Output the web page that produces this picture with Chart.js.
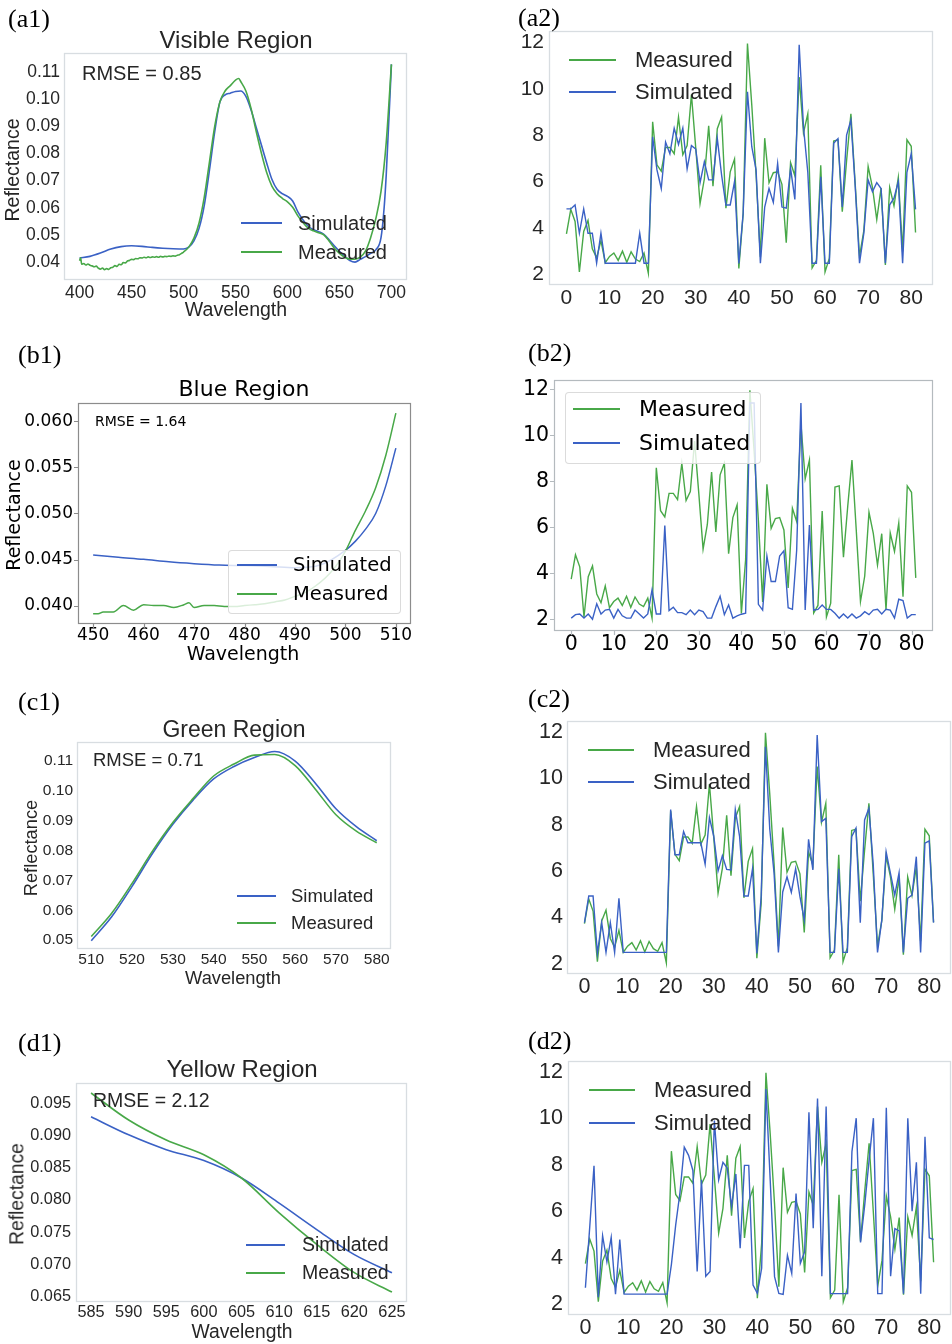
<!DOCTYPE html>
<html><head><meta charset="utf-8">
<script src="https://cdn.jsdelivr.net/npm/chart.js@4.4.1/dist/chart.umd.min.js"></script>
<style>
html,body{margin:0;padding:0;background:#fff;}
body{width:952px;height:1344px;position:relative;overflow:hidden;}
canvas{position:absolute;}
.t{position:absolute;white-space:nowrap;line-height:1;}
</style></head><body>
<script>
// ---------------- DATA ----------------
// (a1) Visible region
const a1WlSim = [400,410,420,430,440,450,460,470,480,490,500,505,510,515,520,525,530,535,540,545,550,555,560,565,570,575,580,585,590,595,600,605,610,615,620,625,630,635,640,645,650,655,660,665,670,675,680,685,690,693,695,700];
const a1Sim   = [0.0415,0.0421,0.0433,0.0448,0.0457,0.0460,0.0458,0.0454,0.0451,0.0449,0.0448,0.0455,0.0478,0.0525,0.0610,0.0740,0.0880,0.0990,0.1016,0.1022,0.1028,0.1030,0.1010,0.0960,0.0895,0.0830,0.0765,0.0705,0.0668,0.0652,0.0642,0.0625,0.0585,0.0555,0.0532,0.0519,0.0512,0.0502,0.0482,0.0460,0.0440,0.0422,0.0406,0.0400,0.0410,0.0420,0.0432,0.0445,0.0490,0.0600,0.0720,0.1128];
const a1WlMeas = [400,401,402,404,406,408,410,412,414,416,418,420,422,424,426,428,430,432,434,436,438,440,442,444,446,448,450,452,454,456,458,460,462,464,466,468,470,472,474,476,478,480,482,484,486,488,490,492,494,496,498,500,505,510,515,520,525,530,535,540,545,550,553,555,560,565,570,575,580,585,590,595,600,605,610,615,620,625,630,635,640,645,650,655,660,665,670,675,680,685,690,695,700];
const a1Meas   = [0.0405,0.0416,0.0392,0.0395,0.0389,0.0393,0.0388,0.0386,0.0383,0.0385,0.0378,0.0374,0.0378,0.0372,0.0376,0.0373,0.0379,0.0381,0.0387,0.0384,0.0392,0.0390,0.0398,0.0397,0.0404,0.0406,0.0410,0.0409,0.0413,0.0412,0.0416,0.0415,0.0418,0.0416,0.0419,0.0417,0.0419,0.0418,0.0420,0.0418,0.0421,0.0419,0.0421,0.0420,0.0422,0.0421,0.0423,0.0422,0.0425,0.0427,0.0432,0.0437,0.0455,0.0488,0.0545,0.0640,0.0770,0.0900,0.0990,0.1030,0.1050,0.1070,0.1076,0.1065,0.1030,0.0965,0.0880,0.0800,0.0730,0.0680,0.0652,0.0635,0.0622,0.0602,0.0570,0.0545,0.0525,0.0515,0.0508,0.0500,0.0478,0.0452,0.0432,0.0418,0.0411,0.0411,0.0418,0.0440,0.0490,0.0560,0.0660,0.0840,0.1128];
const a1XTicks = [400,450,500,550,600,650,700];
const a1YTicks = [0.04,0.05,0.06,0.07,0.08,0.09,0.10,0.11];

// (b1) Blue region
const b1WlSim = [450,455,460,465,470,475,480,485,490,495,500,502,504,506,508,510];
const b1Sim   = [0.04550,0.04525,0.04503,0.04475,0.04455,0.04440,0.04434,0.04425,0.04410,0.04440,0.04600,0.04700,0.04830,0.05000,0.05300,0.05710];
const b1WlMeas = [450,451,452,454,456,458,460,462,464,466,468,469,470,472,474,476,478,480,482,484,486,488,490,492,494,496,498,500,502,504,506,508,510];
const b1Meas   = [0.0391,0.0391,0.0393,0.0393,0.0400,0.0395,0.0401,0.0400,0.0400,0.0398,0.0401,0.0403,0.0398,0.0400,0.0400,0.0399,0.0399,0.0400,0.0401,0.0402,0.0404,0.0406,0.0410,0.0414,0.0421,0.0430,0.0442,0.0459,0.0482,0.0503,0.0528,0.0563,0.0609];
const b1XTicks = [450,460,470,480,490,500,510];
const b1YTicks = [0.040,0.045,0.050,0.055,0.060];

// (c1) Green region
const c1Wl   = [510,515,520,525,530,535,540,545,550,555,560,565,570,575,580];
const c1Sim  = [0.0498,0.0578,0.0680,0.0790,0.0888,0.0970,0.1040,0.1082,0.1112,0.1132,0.1100,0.1025,0.0940,0.0880,0.0833];
const c1Meas = [0.0512,0.0590,0.0690,0.0798,0.0894,0.0975,0.1050,0.1090,0.1120,0.1122,0.1085,0.1005,0.0920,0.0865,0.0826];
const c1XTicks = [510,520,530,540,550,560,570,580];
const c1YTicks = [0.05,0.06,0.07,0.08,0.09,0.10,0.11];

// (d1) Yellow region
const d1Wl   = [585,590,595,600,605,610,615,620,625];
const d1Sim  = [0.0929,0.0901,0.0878,0.0861,0.0834,0.0795,0.0754,0.0715,0.0687];
const d1Meas = [0.0966,0.0924,0.0893,0.0870,0.0834,0.0780,0.0731,0.0687,0.0657];
const d1XTicks = [585,590,595,600,605,610,615,620,625];
const d1YTicks = [0.065,0.070,0.075,0.080,0.085,0.090,0.095];

// Right column: sample index 0..81
const measured = [3.74,4.80,4.28,2.10,3.85,4.32,3.10,2.72,3.45,2.50,2.77,2.92,2.60,3.00,2.52,2.97,2.66,2.55,2.92,2.05,
  8.58,6.72,6.45,7.47,7.47,7.20,8.78,7.16,7.55,9.75,7.45,5.05,6.12,8.40,5.80,8.28,8.78,4.85,6.42,6.97,
  2.25,4.60,11.95,9.30,6.30,2.75,7.87,5.95,6.38,6.42,5.88,3.36,6.82,6.25,10.50,8.10,8.92,2.27,2.60,6.70,
  2.10,2.70,7.75,7.80,4.70,6.90,8.92,5.90,2.77,3.88,6.65,5.75,4.36,5.72,2.40,5.75,4.95,6.18,2.98,7.80,7.52,3.80];
const simA2 = [4.82,4.82,4.99,3.77,4.82,3.77,3.77,2.48,3.77,2.48,2.48,2.48,2.48,2.48,2.48,2.48,2.48,3.77,2.48,2.48,
  7.93,6.50,5.70,7.70,7.20,8.30,7.60,8.30,6.55,7.55,7.40,5.95,6.85,6.07,6.07,7.86,6.28,4.99,4.99,6.00,
  2.47,4.63,9.87,7.50,6.50,2.48,4.90,5.70,5.10,6.78,4.90,4.85,6.57,5.23,11.90,8.35,6.40,2.48,2.48,6.20,
  2.48,2.48,7.65,7.85,4.90,8.00,8.65,5.80,2.48,3.77,6.07,5.56,5.95,5.70,2.48,5.00,5.28,6.00,2.48,6.40,7.20,4.80];
const simB2 = [2.05,2.20,2.23,2.05,2.23,2.00,2.67,2.23,2.40,2.43,2.05,2.43,2.15,2.05,2.05,2.40,2.23,2.05,2.23,3.28,
  2.23,2.23,6.07,2.38,2.52,2.29,2.29,2.20,2.40,2.20,2.40,2.33,2.05,2.05,2.55,3.00,2.20,2.62,2.05,2.15,
  2.22,2.26,11.40,11.40,2.65,2.40,4.75,3.64,3.64,4.75,4.98,2.50,2.43,5.00,11.40,2.40,6.10,2.40,2.43,2.62,
  2.43,2.43,2.26,2.05,2.23,2.05,2.23,2.05,2.15,2.33,2.20,2.40,2.43,2.23,2.43,2.40,2.05,2.87,2.81,2.05,2.20,2.20];
const simC2 = [3.78,4.93,4.93,2.46,3.78,2.50,3.78,2.50,4.83,2.50,2.50,2.50,2.50,2.50,2.50,2.50,2.50,2.50,2.50,2.50,
  8.65,6.70,6.70,7.70,7.22,7.22,7.22,7.22,6.30,8.30,7.50,6.00,6.66,6.07,6.05,8.65,7.48,4.93,4.93,6.10,
  2.46,4.90,11.35,7.80,5.90,2.50,5.10,5.75,5.08,6.10,4.90,3.90,7.37,6.05,11.86,8.13,8.27,2.50,2.50,6.10,
  2.50,2.50,7.48,7.85,3.78,8.20,8.70,6.30,2.50,3.90,6.83,5.90,4.97,5.93,2.50,4.83,4.97,6.62,2.50,7.20,7.30,3.78];
const simD2 = [2.70,5.30,7.95,2.30,4.94,3.82,4.87,2.43,4.78,2.43,2.43,2.43,2.43,2.43,2.43,2.43,2.43,2.43,2.43,2.43,
  3.70,5.40,6.80,8.75,8.40,7.75,3.40,7.35,3.20,3.40,9.90,7.35,8.10,7.85,6.20,7.60,4.40,7.97,7.97,2.82,
  2.46,3.54,11.25,7.30,3.18,2.46,2.42,4.10,3.32,6.76,3.75,4.25,10.25,5.26,10.85,3.20,10.50,2.45,2.45,2.45,
  2.45,2.45,8.55,10.00,4.65,6.30,8.20,10.00,2.45,2.45,10.45,3.20,5.25,5.15,2.45,10.00,6.00,8.10,2.45,9.20,4.85,4.78];
const sampleIdx = measured.map((_, i) => i);
const idxTicks = [0,10,20,30,40,50,60,70,80];
const valTicks = [2,4,6,8,10,12];

// ---------------- STYLE ----------------
const BLUE = '#3a61c5', GREEN = '#48a848';
const ARIAL = "'Liberation Sans', Arial, sans-serif";
const DEJAVU = "'DejaVu Sans', sans-serif";
const TIMES = "'Liberation Serif', 'Times New Roman', serif";
const SEA_TXT = '#262626', MPL_TXT = '#000000';
const SEA_FRAME = '#d8dde1', MPL_FRAME = '#8c8c8c', B2_FRAME = '#b4babe';

const framePlugin = {
  id: 'frame',
  afterDatasetsDraw(chart, args, opts) {
    const {ctx, chartArea: a} = chart;
    ctx.save();
    ctx.strokeStyle = opts.color; ctx.lineWidth = opts.width;
    ctx.strokeRect(a.left + 0.5, a.top + 0.5, a.right - a.left - 1, a.bottom - a.top - 1);
    if (opts.tick) {
      ctx.beginPath();
      chart.scales.x.ticks.forEach(t => { const p = Math.round(chart.scales.x.getPixelForValue(t.value)) + 0.5; ctx.moveTo(p, a.bottom); ctx.lineTo(p, a.bottom + opts.tick); });
      chart.scales.y.ticks.forEach(t => { const p = Math.round(chart.scales.y.getPixelForValue(t.value)) + 0.5; ctx.moveTo(a.left, p); ctx.lineTo(a.left - opts.tick, p); });
      ctx.stroke();
    }
    ctx.restore();
  }
};

function makeChart(o) {
  const [cx, cy, cw, ch] = o.box; const [fl, ft, fr, fb] = o.frame;
  const c = document.createElement('canvas');
  Object.assign(c.style, {left: cx + 'px', top: cy + 'px', width: cw + 'px', height: ch + 'px'});
  c.width = cw; c.height = ch;
  document.body.appendChild(c);
  const tf = {family: o.family, size: o.tickSize};
  new Chart(c, {
    type: 'line',
    data: {datasets: o.series.map(s => ({
      label: s.label, data: s.x.map((x, i) => ({x: x, y: s.y[i]})),
      borderColor: s.color, backgroundColor: s.color, borderWidth: o.lw, pointRadius: 0, fill: false,
      order: s.order, tension: 0, cubicInterpolationMode: o.smooth ? 'monotone' : 'default'
    }))},
    options: {
      responsive: false, animation: false, devicePixelRatio: 1,
      layout: {padding: {left: 0, top: ft - cy, right: cx + cw - fr, bottom: 0}},
      plugins: {legend: {display: false}, tooltip: {enabled: false}, frame: {color: o.frameColor, width: o.frameWidth, tick: o.tickLen || 0}},
      scales: {
        x: {type: 'linear', position: 'bottom', min: o.xr[0], max: o.xr[1],
            afterFit: s => { s.height = cy + ch - fb; },
            afterBuildTicks: s => { s.ticks = o.xt.map(v => ({value: v})); },
            grid: {display: false, drawTicks: false}, border: {display: false},
            ticks: {font: tf, color: o.color, padding: o.xpad, maxRotation: 0, minRotation: 0, autoSkip: false, callback: v => v.toFixed(o.xd)}},
        y: {type: 'linear', position: 'left', min: o.yr[0], max: o.yr[1],
            afterFit: s => { s.width = fl - cx; },
            afterBuildTicks: s => { s.ticks = o.yt.map(v => ({value: v})); },
            grid: {display: false, drawTicks: false}, border: {display: false},
            ticks: {font: tf, color: o.color, padding: o.ypad, autoSkip: false, callback: v => v.toFixed(o.yd)}}
      }
    },
    plugins: [framePlugin]
  });
}

function txt(x, y, s, size, family, color, align, rot) {
  const d = document.createElement('div');
  d.className = 't'; d.textContent = s;
  d.style.fontSize = size + 'px'; d.style.fontFamily = family; d.style.color = color;
  d.style.left = x + 'px'; d.style.top = y + 'px';
  const tx = align === 'left' ? '0' : (align === 'right' ? '-100%' : '-50%');
  d.style.transform = 'translate(' + tx + ',-50%)' + (rot ? ' rotate(' + rot + 'deg)' : '');
  document.body.appendChild(d);
}
function legendBox(l, t, r, b) {
  const d = document.createElement('div');
  Object.assign(d.style, {position: 'absolute', left: l + 'px', top: t + 'px', width: (r - l) + 'px', height: (b - t) + 'px',
    background: 'rgba(255,255,255,0.8)', border: '1px solid rgba(210,210,210,0.8)', borderRadius: '4px', boxSizing: 'border-box'});
  document.body.appendChild(d);
}
function legend(rows, x1, x2, tx, size, family, color, lw) {
  rows.forEach(r => {
    const d = document.createElement('div');
    Object.assign(d.style, {position: 'absolute', left: x1 + 'px', top: (r.y - lw / 2) + 'px', width: (x2 - x1) + 'px', height: lw + 'px', background: r.color});
    document.body.appendChild(d);
    txt(tx, r.y, r.label, size, family, color, 'left');
  });
}

// ---------------- LEFT COLUMN ----------------
makeChart({box: [0, 0, 476, 330], frame: [64, 53, 407, 280], xr: [385, 715], yr: [0.0334, 0.1170],
  xt: a1XTicks, yt: a1YTicks, xd: 0, yd: 2, family: ARIAL, tickSize: 17.5, color: SEA_TXT, xpad: 2.5, ypad: 4,
  frameColor: SEA_FRAME, frameWidth: 1.3, lw: 1.6, smooth: true,
  series: [{label: 'Simulated', x: a1WlSim, y: a1Sim, color: BLUE, order: 1}, {label: 'Measured', x: a1WlMeas, y: a1Meas, color: GREEN, order: 0}]});
makeChart({box: [0, 330, 476, 340], frame: [78, 403, 411, 624], xr: [447, 513], yr: [0.0380, 0.0620],
  xt: b1XTicks, yt: b1YTicks, xd: 0, yd: 3, family: DEJAVU, tickSize: 17, color: MPL_TXT, xpad: 1, ypad: 5,
  frameColor: MPL_FRAME, frameWidth: 1.2, tickLen: 4, lw: 1.5, smooth: true,
  series: [{label: 'Simulated', x: b1WlSim, y: b1Sim, color: BLUE, order: 1}, {label: 'Measured', x: b1WlMeas, y: b1Meas, color: GREEN, order: 0}]});
makeChart({box: [0, 680, 476, 330], frame: [77, 742, 391, 949], xr: [506.5, 583.5], yr: [0.0470, 0.1164],
  xt: c1XTicks, yt: c1YTicks, xd: 0, yd: 2, family: ARIAL, tickSize: 15.5, color: SEA_TXT, xpad: 1.2, ypad: 4,
  frameColor: SEA_FRAME, frameWidth: 1.3, lw: 1.6, smooth: true,
  series: [{label: 'Simulated', x: c1Wl, y: c1Sim, color: BLUE, order: 1}, {label: 'Measured', x: c1Wl, y: c1Meas, color: GREEN, order: 0}]});
makeChart({box: [0, 1010, 476, 334], frame: [76, 1083, 407, 1302], xr: [583, 627], yr: [0.06415, 0.09815],
  xt: d1XTicks, yt: d1YTicks, xd: 0, yd: 3, family: ARIAL, tickSize: 16.3, color: SEA_TXT, xpad: 1.2, ypad: 5,
  frameColor: SEA_FRAME, frameWidth: 1.3, lw: 1.6, smooth: true,
  series: [{label: 'Simulated', x: d1Wl, y: d1Sim, color: BLUE, order: 1}, {label: 'Measured', x: d1Wl, y: d1Meas, color: GREEN, order: 0}]});

// ---------------- RIGHT COLUMN ----------------
function rightSeries(sim) {
  return [{label: 'Measured', x: sampleIdx, y: measured, color: GREEN, order: 1}, {label: 'Simulated', x: sampleIdx, y: sim, color: BLUE, order: 0}];
}
makeChart({box: [476, 0, 476, 330], frame: [549, 31, 933, 285], xr: [-4.05, 85.05], yr: [1.54, 12.49],
  xt: idxTicks, yt: valTicks, xd: 0, yd: 0, family: ARIAL, tickSize: 21, color: SEA_TXT, xpad: 1, ypad: 5,
  frameColor: SEA_FRAME, frameWidth: 1.3, lw: 1.4, smooth: false, series: rightSeries(simA2)});
makeChart({box: [476, 330, 476, 340], frame: [554, 380, 933, 631], xr: [-4.05, 85.05], yr: [1.49, 12.40],
  xt: idxTicks, yt: valTicks, xd: 0, yd: 0, family: DEJAVU, tickSize: 20.5, color: MPL_TXT, xpad: 1.7, ypad: 5,
  frameColor: B2_FRAME, frameWidth: 1.2, tickLen: 4, lw: 1.4, smooth: false, series: rightSeries(simB2)});
makeChart({box: [476, 680, 500, 330], frame: [567, 721, 951, 974], xr: [-4.05, 85.05], yr: [1.57, 12.46],
  xt: idxTicks, yt: valTicks, xd: 0, yd: 0, family: ARIAL, tickSize: 21.5, color: SEA_TXT, xpad: 0, ypad: 4,
  frameColor: SEA_FRAME, frameWidth: 1.3, lw: 1.4, smooth: false, series: rightSeries(simC2)});
makeChart({box: [476, 1010, 500, 334], frame: [568, 1061, 951, 1315], xr: [-4.05, 85.05], yr: [1.53, 12.46],
  xt: idxTicks, yt: valTicks, xd: 0, yd: 0, family: ARIAL, tickSize: 21.5, color: SEA_TXT, xpad: 0, ypad: 5,
  frameColor: SEA_FRAME, frameWidth: 1.3, lw: 1.4, smooth: false, series: rightSeries(simD2)});

// ---------------- TEXT ----------------
// panel labels
txt(8, 19, '(a1)', 26, TIMES, '#000', 'left');
txt(518, 18, '(a2)', 26, TIMES, '#000', 'left');
txt(18, 355, '(b1)', 26, TIMES, '#000', 'left');
txt(528, 353, '(b2)', 26, TIMES, '#000', 'left');
txt(18, 702, '(c1)', 26, TIMES, '#000', 'left');
txt(528, 699, '(c2)', 26, TIMES, '#000', 'left');
txt(18, 1043, '(d1)', 26, TIMES, '#000', 'left');
txt(528, 1041, '(d2)', 26, TIMES, '#000', 'left');

// a1
txt(236, 40, 'Visible Region', 24, ARIAL, SEA_TXT, 'center');
txt(82, 73, 'RMSE = 0.85', 20, ARIAL, SEA_TXT, 'left');
txt(13, 170, 'Reflectance', 19.5, ARIAL, SEA_TXT, 'center', -90);
txt(236, 310, 'Wavelength', 19.5, ARIAL, SEA_TXT, 'center');
legend([{label: 'Simulated', y: 223, color: BLUE}, {label: 'Measured', y: 252, color: GREEN}], 241, 282, 298, 20, ARIAL, SEA_TXT, 1.6);
// b1
txt(244, 389, 'Blue Region', 22, DEJAVU, MPL_TXT, 'center');
txt(95, 421, 'RMSE = 1.64', 14, DEJAVU, MPL_TXT, 'left');
txt(13, 515, 'Reflectance', 19, DEJAVU, MPL_TXT, 'center', -90);
txt(243, 653, 'Wavelength', 19, DEJAVU, MPL_TXT, 'center');
legendBox(228, 550, 401, 614);
legend([{label: 'Simulated', y: 565, color: BLUE}, {label: 'Measured', y: 594, color: GREEN}], 237, 277, 293, 19.5, DEJAVU, MPL_TXT, 1.5);
// c1
txt(234, 729, 'Green Region', 23, ARIAL, SEA_TXT, 'center');
txt(93, 760, 'RMSE = 0.71', 18.5, ARIAL, SEA_TXT, 'left');
txt(31, 848, 'Reflectance', 18.3, ARIAL, SEA_TXT, 'center', -90);
txt(233, 978, 'Wavelength', 18.3, ARIAL, SEA_TXT, 'center');
legend([{label: 'Simulated', y: 896, color: BLUE}, {label: 'Measured', y: 923, color: GREEN}], 237, 276, 291, 18.5, ARIAL, SEA_TXT, 1.6);
// d1
txt(242, 1069, 'Yellow Region', 24, ARIAL, SEA_TXT, 'center');
txt(93, 1101, 'RMSE = 2.12', 19.5, ARIAL, SEA_TXT, 'left');
txt(17, 1194, 'Reflectance', 19.3, ARIAL, SEA_TXT, 'center', -90);
txt(242, 1332, 'Wavelength', 19.3, ARIAL, SEA_TXT, 'center');
legend([{label: 'Simulated', y: 1245, color: BLUE}, {label: 'Measured', y: 1273, color: GREEN}], 246, 285, 302, 19.5, ARIAL, SEA_TXT, 1.6);
// right legends
legend([{label: 'Measured', y: 60, color: GREEN}, {label: 'Simulated', y: 92, color: BLUE}], 569, 616, 635, 22, ARIAL, SEA_TXT, 1.6);
legendBox(565, 392, 761, 464);
legend([{label: 'Measured', y: 409, color: GREEN}, {label: 'Simulated', y: 443, color: BLUE}], 573, 620, 639, 22, DEJAVU, MPL_TXT, 1.6);
legend([{label: 'Measured', y: 750, color: GREEN}, {label: 'Simulated', y: 782, color: BLUE}], 588, 634, 653, 22, ARIAL, SEA_TXT, 1.6);
legend([{label: 'Measured', y: 1090, color: GREEN}, {label: 'Simulated', y: 1123, color: BLUE}], 589, 635, 654, 22, ARIAL, SEA_TXT, 1.6);
</script>
</body></html>
